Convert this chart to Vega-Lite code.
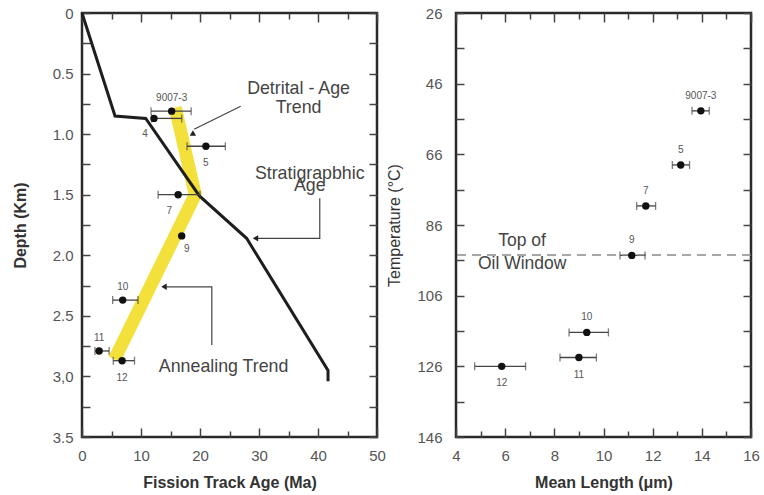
{
  "$schema": "https://vega.github.io/schema/vega-lite/v6.json",
  "padding": {"left": 10, "top": 4, "right": 2, "bottom": 2},
  "background": "white",
  "spacing": -2,
  "config": {
    "font": "Liberation Sans",
    "view": {"stroke": "#2a2a2a", "strokeWidth": 2.5},
    "axis": {
      "domain": false, "grid": false, "tickColor": "#444", "tickWidth": 1.5,
      "labelFontSize": 15, "labelColor": "#555", "labelFlush": false, "labelOverlap": false,
      "titleFontSize": 16, "titleColor": "#333", "titleFontWeight": "bold"
    }
  },
  "datasets": {
    "band": [
      {"i": 1, "age": 15.8, "depth": 0.78},
      {"i": 2, "age": 19.2, "depth": 1.5},
      {"i": 3, "age": 5.5, "depth": 2.86}
    ],
    "strat": [
      {"i": 1, "age": 0, "depth": 0},
      {"i": 2, "age": 5.6, "depth": 0.85},
      {"i": 3, "age": 10.8, "depth": 0.87},
      {"i": 4, "age": 19.9, "depth": 1.51},
      {"i": 5, "age": 27.9, "depth": 1.86},
      {"i": 6, "age": 41.7, "depth": 2.95},
      {"i": 7, "age": 41.7, "depth": 3.04}
    ],
    "ftAge": [
      {"id": "9007-3", "age": 15.2, "lo": 11.7, "hi": 18.5, "depth": 0.81, "place": "above"},
      {"id": "4", "age": 12.2, "lo": 11.8, "hi": 16.9, "depth": 0.87, "place": "belowleft"},
      {"id": "5", "age": 21.0, "lo": 17.8, "hi": 24.3, "depth": 1.10, "place": "below"},
      {"id": "7", "age": 16.3, "lo": 12.9, "hi": 20.0, "depth": 1.50, "place": "belowleft"},
      {"id": "9", "age": 16.9, "lo": null, "hi": null, "depth": 1.84, "place": "belowright"},
      {"id": "10", "age": 6.9, "lo": 5.2, "hi": 9.5, "depth": 2.37, "place": "above"},
      {"id": "11", "age": 2.9, "lo": 2.2, "hi": 4.6, "depth": 2.79, "place": "above"},
      {"id": "12", "age": 6.8, "lo": 5.3, "hi": 8.9, "depth": 2.87, "place": "below"}
    ],
    "arrows": [
      {"arrow": "d", "i": 1, "age": 26.9, "depth": 0.77},
      {"arrow": "d", "i": 2, "age": 19.0, "depth": 0.96},
      {"arrow": "s", "i": 1, "age": 40.3, "depth": 1.53},
      {"arrow": "s", "i": 2, "age": 40.3, "depth": 1.86},
      {"arrow": "s", "i": 3, "age": 29.8, "depth": 1.86},
      {"arrow": "a", "i": 1, "age": 22.0, "depth": 2.74},
      {"arrow": "a", "i": 2, "age": 22.0, "depth": 2.26},
      {"arrow": "a", "i": 3, "age": 14.3, "depth": 2.26}
    ],
    "heads": [
      {"head": "up", "age": 18.8, "depth": 0.99},
      {"head": "left", "age": 29.4, "depth": 1.86},
      {"head": "left", "age": 13.9, "depth": 2.26}
    ],
    "notes": [
      {"t": "Detrital - Age", "age": 36.7, "depth": 0.625},
      {"t": "Trend", "age": 36.7, "depth": 0.785},
      {"t": "Stratigrapbhic", "age": 38.6, "depth": 1.327},
      {"t": "Age", "age": 38.6, "depth": 1.424},
      {"t": "Annealing Trend", "age": 24.0, "depth": 2.923}
    ],
    "mtl": [
      {"id": "9007-3", "len": 13.96, "lo": 13.6, "hi": 14.3, "temp": 53.7, "place": "above"},
      {"id": "5", "len": 13.14, "lo": 12.8, "hi": 13.5, "temp": 69.0, "place": "above"},
      {"id": "7", "len": 11.72, "lo": 11.35, "hi": 12.12, "temp": 80.6, "place": "above"},
      {"id": "9", "len": 11.15, "lo": 10.67, "hi": 11.69, "temp": 94.6, "place": "above"},
      {"id": "10", "len": 9.32, "lo": 8.6, "hi": 10.2, "temp": 116.4, "place": "above"},
      {"id": "11", "len": 9.0, "lo": 8.23, "hi": 9.71, "temp": 123.5, "place": "below"},
      {"id": "12", "len": 5.86, "lo": 4.76, "hi": 6.83, "temp": 126.0, "place": "below"}
    ],
    "oil": [{"temp": 94.5}],
    "oilText": [
      {"t": "Top of", "len": 6.69, "temp": 90.6},
      {"t": "Oil Window", "len": 6.69, "temp": 97.1}
    ]
  },
  "hconcat": [
    {
      "width": 295,
      "height": 424,
      "resolve": {"axis": {"x": "independent", "y": "independent"}},
      "encoding": {
        "x": {"field": "age", "type": "quantitative", "scale": {"domain": [0, 50], "nice": false, "zero": false}, "axis": null},
        "y": {"field": "depth", "type": "quantitative", "scale": {"domain": [0, 3.5], "nice": false, "reverse": true}, "axis": null}
      },
      "layer": [
        {
          "data": {"name": "band"},
          "mark": {"type": "line", "color": "#F3E03B", "strokeWidth": 13, "strokeCap": "butt", "strokeJoin": "round"},
          "encoding": {
            "order": {"field": "i"},
            "x": {"field": "age", "type": "quantitative", "scale": {"domain": [0, 50], "nice": false, "zero": false},
              "axis": {"orient": "bottom", "values": [0, 5, 10, 15, 20, 25, 30, 35, 40, 45, 50],
                "labelExpr": "datum.value % 10 === 0 ? datum.label : ''",
                "tickSize": {"condition": {"test": "datum.value % 10 === 0", "value": -9}, "value": -6},
                "labelPadding": 20, "title": "Fission Track Age (Ma)", "titlePadding": 8}},
            "y": {"field": "depth", "type": "quantitative", "scale": {"domain": [0, 3.5], "nice": false, "reverse": true},
              "axis": {"orient": "left", "values": [0, 0.25, 0.5, 0.75, 1, 1.25, 1.5, 1.75, 2, 2.25, 2.5, 2.75, 3, 3.25, 3.5],
                "labelExpr": "datum.value === 3 ? '3,0' : (datum.value === 0 ? '0' : ((datum.value * 2) % 1 === 0 ? format(datum.value, '.1f') : ''))",
                "tickSize": -8, "labelPadding": 17, "title": "Depth (Km)", "titlePadding": 24}}
          }
        },
        {
          "data": {"name": "strat"},
          "mark": {"type": "line", "opacity": 0},
          "encoding": {
            "x": {"field": "age", "type": "quantitative", "scale": {"domain": [0, 50], "nice": false, "zero": false},
              "axis": {"orient": "top", "values": [0, 5, 10, 15, 20, 25, 30, 35, 40, 45, 50], "labels": false, "title": null,
                "tickSize": {"condition": {"test": "datum.value % 10 === 0", "value": -9}, "value": -6}}},
            "y": {"field": "depth", "type": "quantitative", "scale": {"domain": [0, 3.5], "nice": false, "reverse": true},
              "axis": {"orient": "right", "values": [0, 0.25, 0.5, 0.75, 1, 1.25, 1.5, 1.75, 2, 2.25, 2.5, 2.75, 3, 3.25, 3.5], "labels": false, "title": null, "tickSize": -8}}
          }
        },
        {
          "data": {"name": "strat"},
          "mark": {"type": "line", "color": "#1e1e1e", "strokeWidth": 3, "strokeJoin": "miter"},
          "encoding": {"order": {"field": "i"}}
        },
        {
          "data": {"name": "arrows"},
          "mark": {"type": "line", "color": "#444", "strokeWidth": 1.2, "strokeJoin": "miter"},
          "encoding": {"order": {"field": "i"}, "detail": {"field": "arrow"}}
        },
        {
          "data": {"name": "heads"},
          "transform": [{"filter": "datum.head === 'up'"}],
          "mark": {"type": "point", "shape": "triangle-up", "filled": true, "size": 40, "color": "#222", "opacity": 1},
          "encoding": {}
        },
        {
          "data": {"name": "heads"},
          "transform": [{"filter": "datum.head === 'left'"}],
          "mark": {"type": "point", "shape": "triangle-left", "filled": true, "size": 40, "color": "#222", "opacity": 1},
          "encoding": {}
        },
        {
          "data": {"name": "notes"},
          "mark": {"type": "text", "fontSize": 17.8, "color": "#444", "baseline": "middle", "align": "center"},
          "encoding": {"text": {"field": "t"}}
        },
        {
          "data": {"name": "ftAge"},
          "transform": [{"filter": "isValid(datum.lo)"}],
          "mark": {"type": "rule", "color": "#444", "strokeWidth": 1.3},
          "encoding": {"x": {"field": "lo", "type": "quantitative", "axis": null}, "x2": {"field": "hi"}}
        },
        {
          "data": {"name": "ftAge"},
          "transform": [{"filter": "isValid(datum.lo)"}],
          "mark": {"type": "tick", "orient": "vertical", "color": "#444", "size": 8, "thickness": 1.3},
          "encoding": {"x": {"field": "lo", "type": "quantitative", "axis": null}}
        },
        {
          "data": {"name": "ftAge"},
          "transform": [{"filter": "isValid(datum.hi)"}],
          "mark": {"type": "tick", "orient": "vertical", "color": "#444", "size": 8, "thickness": 1.3},
          "encoding": {"x": {"field": "hi", "type": "quantitative", "axis": null}}
        },
        {
          "data": {"name": "ftAge"},
          "mark": {"type": "circle", "size": 55, "color": "#111", "opacity": 1},
          "encoding": {}
        },
        {
          "data": {"name": "ftAge"},
          "transform": [{"filter": "datum.place === 'above'"}],
          "mark": {"type": "text", "fontSize": 10, "color": "#555", "dy": -13},
          "encoding": {"text": {"field": "id"}}
        },
        {
          "data": {"name": "ftAge"},
          "transform": [{"filter": "datum.place === 'below'"}],
          "mark": {"type": "text", "fontSize": 10, "color": "#555", "dy": 17},
          "encoding": {"text": {"field": "id"}}
        },
        {
          "data": {"name": "ftAge"},
          "transform": [{"filter": "datum.place === 'belowleft'"}],
          "mark": {"type": "text", "fontSize": 10, "color": "#555", "dy": 16, "dx": -9},
          "encoding": {"text": {"field": "id"}}
        },
        {
          "data": {"name": "ftAge"},
          "transform": [{"filter": "datum.place === 'belowright'"}],
          "mark": {"type": "text", "fontSize": 10, "color": "#555", "dy": 13, "dx": 5},
          "encoding": {"text": {"field": "id"}}
        }
      ]
    },
    {
      "width": 295,
      "height": 424,
      "resolve": {"axis": {"x": "independent", "y": "independent"}},
      "layer": [
        {
          "data": {"name": "mtl"},
          "mark": {"type": "rule", "color": "#444", "strokeWidth": 1.3},
          "encoding": {
            "x": {"field": "lo", "type": "quantitative", "scale": {"domain": [4, 16], "nice": false, "zero": false},
              "axis": {"orient": "bottom", "values": [4, 5, 6, 7, 8, 9, 10, 11, 12, 13, 14, 15, 16],
                "labelExpr": "datum.value % 2 === 0 ? datum.label : ''",
                "tickSize": {"condition": {"test": "datum.value % 2 === 0", "value": -9}, "value": -6},
                "labelPadding": 20, "title": "Mean Length (μm)", "titlePadding": 8}},
            "x2": {"field": "hi"},
            "y": {"field": "temp", "type": "quantitative", "scale": {"domain": [26, 146], "nice": false, "zero": false, "reverse": true},
              "axis": {"orient": "left", "values": [26, 36, 46, 56, 66, 76, 86, 96, 106, 116, 126, 136, 146],
                "labelExpr": "(datum.value - 26) % 20 === 0 ? datum.label : ''",
                "tickSize": -8, "labelPadding": 22, "title": "Temperature (°C)", "titleFontWeight": "normal", "titlePadding": 14}}
          }
        },
        {
          "data": {"name": "mtl"},
          "mark": {"type": "point", "opacity": 0},
          "encoding": {
            "x": {"field": "len", "type": "quantitative", "scale": {"domain": [4, 16], "nice": false, "zero": false},
              "axis": {"orient": "top", "values": [4, 5, 6, 7, 8, 9, 10, 11, 12, 13, 14, 15, 16], "labels": false, "title": null,
                "tickSize": {"condition": {"test": "datum.value % 2 === 0", "value": -9}, "value": -6}}},
            "y": {"field": "temp", "type": "quantitative", "scale": {"domain": [26, 146], "nice": false, "zero": false, "reverse": true},
              "axis": {"orient": "right", "values": [26, 36, 46, 56, 66, 76, 86, 96, 106, 116, 126, 136, 146], "labels": false, "title": null, "tickSize": -8}}
          }
        },
        {
          "data": {"name": "oil"},
          "mark": {"type": "rule", "color": "#8a8a8a", "strokeWidth": 1.5, "strokeDash": [9, 6]},
          "encoding": {"y": {"field": "temp", "type": "quantitative", "axis": null}}
        },
        {
          "data": {"name": "oilText"},
          "mark": {"type": "text", "fontSize": 17.5, "color": "#444", "baseline": "middle"},
          "encoding": {
            "x": {"field": "len", "type": "quantitative", "axis": null},
            "y": {"field": "temp", "type": "quantitative", "axis": null},
            "text": {"field": "t"}
          }
        },
        {
          "data": {"name": "mtl"},
          "mark": {"type": "tick", "orient": "vertical", "color": "#444", "size": 8, "thickness": 1.3},
          "encoding": {"x": {"field": "lo", "type": "quantitative", "axis": null}, "y": {"field": "temp", "type": "quantitative", "axis": null}}
        },
        {
          "data": {"name": "mtl"},
          "mark": {"type": "tick", "orient": "vertical", "color": "#444", "size": 8, "thickness": 1.3},
          "encoding": {"x": {"field": "hi", "type": "quantitative", "axis": null}, "y": {"field": "temp", "type": "quantitative", "axis": null}}
        },
        {
          "data": {"name": "mtl"},
          "mark": {"type": "circle", "size": 55, "color": "#111", "opacity": 1},
          "encoding": {"x": {"field": "len", "type": "quantitative", "axis": null}, "y": {"field": "temp", "type": "quantitative", "axis": null}}
        },
        {
          "data": {"name": "mtl"},
          "transform": [{"filter": "datum.place === 'above'"}],
          "mark": {"type": "text", "fontSize": 10, "color": "#555", "dy": -15},
          "encoding": {"x": {"field": "len", "type": "quantitative", "axis": null}, "y": {"field": "temp", "type": "quantitative", "axis": null}, "text": {"field": "id"}}
        },
        {
          "data": {"name": "mtl"},
          "transform": [{"filter": "datum.place === 'below'"}],
          "mark": {"type": "text", "fontSize": 10, "color": "#555", "dy": 17},
          "encoding": {"x": {"field": "len", "type": "quantitative", "axis": null}, "y": {"field": "temp", "type": "quantitative", "axis": null}, "text": {"field": "id"}}
        }
      ]
    }
  ]
}
